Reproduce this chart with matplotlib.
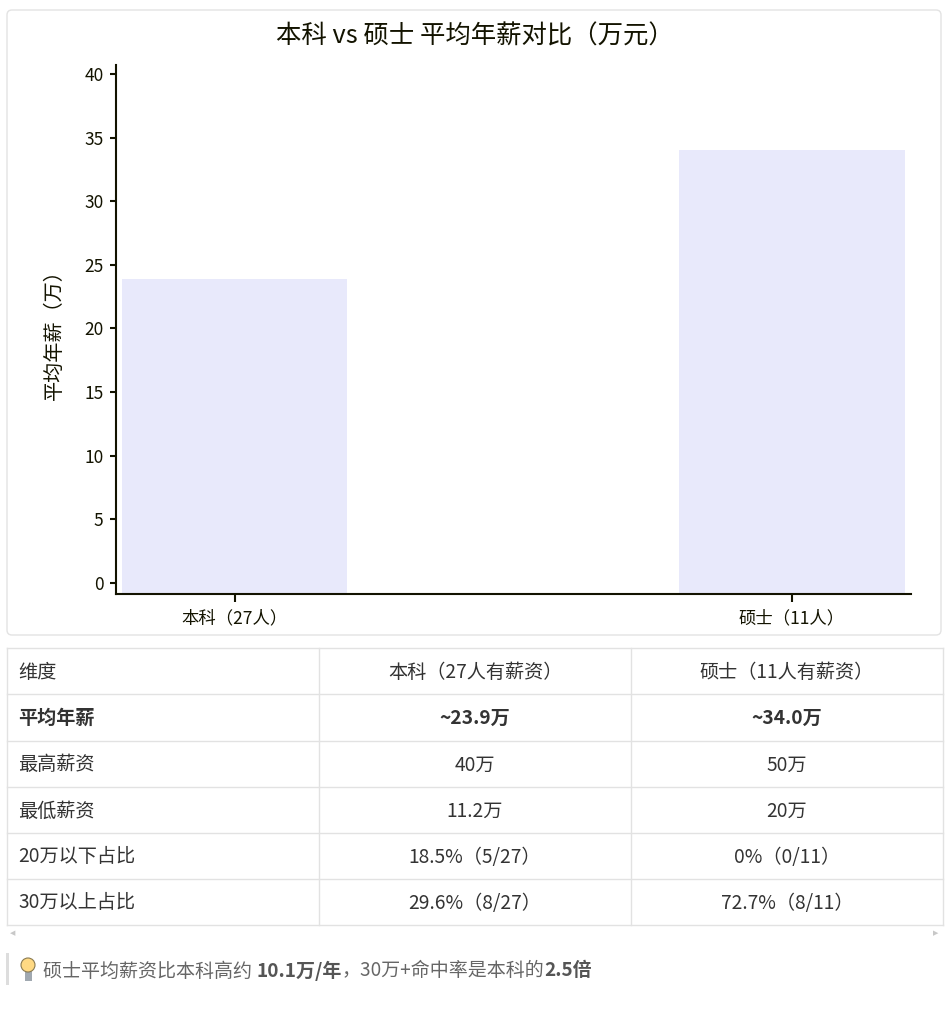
import matplotlib
matplotlib.use("Agg")
import matplotlib.pyplot as plt
from matplotlib.patches import FancyBboxPatch, Rectangle, Circle

plt.rcParams['font.family'] = ['Noto Sans CJK SC', 'DejaVu Sans']

# chart data
categories = ['本科（27人）', '硕士（11人）']
avg_salary = [23.9, 34.0]
y_ticks = [0, 5, 10, 15, 20, 25, 30, 35, 40]
chart_title = '本科 vs 硕士 平均年薪对比（万元）'
y_label = '平均年薪（万）'

# table data
table_header = ['维度', '本科（27人有薪资）', '硕士（11人有薪资）']
row_names = ['平均年薪', '最高薪资', '最低薪资', '20万以下占比', '30万以上占比']
bachelor_col = ['~23.9万', '40万', '11.2万', '18.5%（5/27）', '29.6%（8/27）']
master_col = ['~34.0万', '50万', '20万', '0%（0/11）', '72.7%（8/11）']
bold_rows = [0]

# footnote pieces (text, bold)
note_parts = [('硕士平均薪资比本科高约 ', False), ('10.1万/年', True),
              ('，30万+命中率是本科的', False), ('2.5倍', True)]

W, H = 950, 1009
fig = plt.figure(figsize=(W / 100, H / 100), dpi=100)

# background layer in pixel coords
bg = fig.add_axes([0, 0, 1, 1], zorder=0)
bg.set_xlim(0, W)
bg.set_ylim(H, 0)
bg.axis('off')

ink = '#131300'

# chart card
bg.add_patch(FancyBboxPatch((7, 10), 934, 625, boxstyle='round,pad=0,rounding_size=5',
                            facecolor='white', edgecolor='#e3e3e3', linewidth=1))
bg.text(475, 37, chart_title, ha='center', va='center', fontsize=18.3, color=ink)

# chart axes
def px_rect(l, t, r, b):
    return [l / W, 1 - b / H, (r - l) / W, (b - t) / H]

ax = fig.add_axes(px_rect(116, 65, 911, 594), zorder=1)
ax.patch.set_alpha(0)
ymin, ymax = -0.86, 40.7
ax.set_ylim(ymin, ymax)
ax.set_xlim(-0.2126, 1.2135)
xs = list(range(len(categories)))
ax.bar(xs, [v - ymin for v in avg_salary], bottom=ymin, width=0.405, color='#e8e9fb')
ax.set_xticks(xs)
ax.set_xticklabels(categories)
ax.set_yticks(y_ticks)
for s in ['top', 'right']:
    ax.spines[s].set_visible(False)
for s in ['left', 'bottom']:
    ax.spines[s].set_color(ink)
    ax.spines[s].set_linewidth(1.5)
ax.tick_params(axis='y', length=4, width=1.5, color=ink, labelcolor=ink, labelsize=12.5, pad=5)
ax.tick_params(axis='x', length=6, width=1.5, color=ink, labelcolor=ink, labelsize=12.5, pad=5)
ax.set_ylabel(y_label, fontsize=14.5, color=ink, labelpad=14)

# table
col_x = [7, 319, 631, 943]
row_y = [648, 694, 741, 787, 833, 879, 925]
line_c = '#e2e2e2'
for y in row_y:
    bg.plot([col_x[0], col_x[-1]], [y, y], color=line_c, lw=1)
for x in col_x:
    bg.plot([x, x], [row_y[0], row_y[-1]], color=line_c, lw=1)

text_c = '#333333'
rows = [table_header] + [[n, b, m] for n, b, m in zip(row_names, bachelor_col, master_col)]
for i, row in enumerate(rows):
    yc = (row_y[i] + row_y[i + 1]) / 2 + 1
    weight = 'bold' if (i - 1) in bold_rows else 'normal'
    bg.text(col_x[0] + 11, yc, row[0], ha='left', va='center', fontsize=13.8,
            color=text_c, fontweight=weight)
    for j in (1, 2):
        bg.text((col_x[j] + col_x[j + 1]) / 2, yc, row[j], ha='center', va='center',
                fontsize=13.8, color=text_c, fontweight=weight)

# scroll arrows
bg.text(13, 933, '◀', ha='center', va='center', fontsize=5, color='#c8c8c8', family='DejaVu Sans')
bg.text(936, 933, '▶', ha='center', va='center', fontsize=5, color='#c8c8c8', family='DejaVu Sans')

# footnote
bg.add_patch(Rectangle((6, 953), 3, 32, facecolor='#dddddd', edgecolor='none'))
bg.add_patch(Rectangle((24.5, 971), 7, 10, facecolor='#a0a8b0', edgecolor='none'))
bg.add_patch(Circle((28, 965), 7, facecolor='#ffd983', edgecolor='#8a7a50', linewidth=0.8))

fig.canvas.draw()
renderer = fig.canvas.get_renderer()
x = 43
for txt, bold in note_parts:
    t = bg.text(x, 971, txt, ha='left', va='center', fontsize=13.7,
                color='#555555' if bold else '#666666',
                fontweight='bold' if bold else 'normal')
    x += t.get_window_extent(renderer).width

fig.savefig('out.png', dpi=100)
